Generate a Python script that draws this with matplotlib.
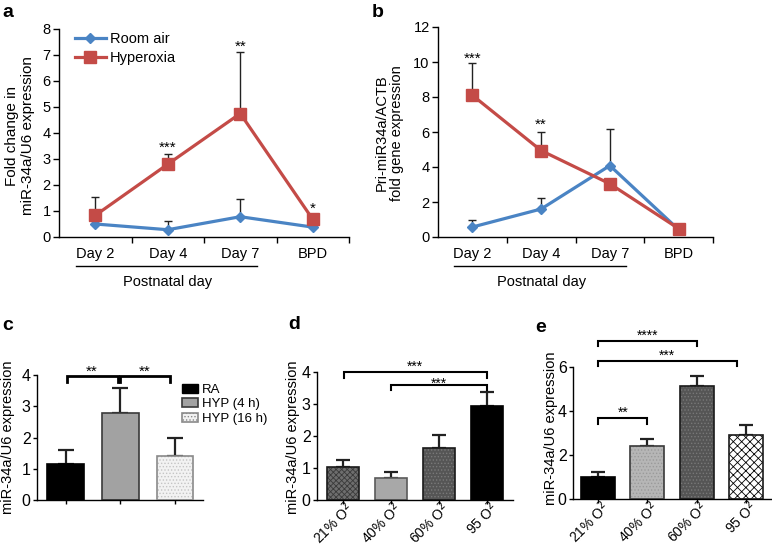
import matplotlib
matplotlib.use('Agg')
import matplotlib.pyplot as plt
import numpy as np
from matplotlib.patches import Patch
import matplotlib.transforms as mtransforms

plt.rcParams.update({
    "font.family": ["Liberation Sans", "DejaVu Sans"],
    "font.size": 10,
    "axes.linewidth": 1.0,
    "xtick.labelsize": 10.5,
    "ytick.labelsize": 10.5,
    "hatch.linewidth": 0.6,
})

# ---- data ----
days = ["Day 2", "Day 4", "Day 7", "BPD"]

# panel a: miR-34a/U6 fold change
a_room = [0.50, 0.28, 0.78, 0.38]
a_room_err = [0.00, 0.34, 0.69, 0.00]
a_hyp = [0.83, 2.80, 4.75, 0.68]
a_hyp_err = [0.72, 0.40, 2.35, 0.05]
a_stars = {1: ("***", 3.6), 2: ("**", 7.5), 3: ("*", 1.26)}

# panel b: pri-miR34a/ACTB
b_room = [0.57, 1.60, 4.08, 0.42]
b_room_err = [0.38, 0.62, 2.09, 0.00]
b_hyp = [8.10, 4.94, 3.04, 0.48]
b_hyp_err = [1.85, 1.08, 0.28, 0.00]
b_stars = {0: ("***", 10.48), 1: ("**", 6.68)}

# panel c
c_groups = ["RA", "HYP (4 h)", "HYP (16 h)"]
c_vals = [1.15, 2.80, 1.41]
c_err = [0.45, 0.77, 0.59]

# panel d
o2_labels = ["21% O$^2$", "40% O$^2$", "60% O$^2$", "95 O$^2$"]
d_vals = [1.02, 0.68, 1.64, 2.93]
d_err = [0.22, 0.21, 0.40, 0.44]

# panel e
e_vals = [1.00, 2.42, 5.15, 2.92]
e_err = [0.21, 0.31, 0.45, 0.43]

W, H = 772, 546
fig = plt.figure(figsize=(W / 100, H / 100), dpi=100)
fig.patch.set_facecolor('white')


def px_axes(left, top, right, bottom):
    return fig.add_axes([left / W, 1 - bottom / H, (right - left) / W, (bottom - top) / H])


def clean(ax, length=4, pad=2):
    ax.spines['top'].set_visible(False)
    ax.spines['right'].set_visible(False)
    ax.tick_params(axis='both', direction='out', length=length, width=1, pad=pad)


def stars(ax, x, y, s, size=11):
    ax.annotate(s, (x, y), xytext=(0, -0.58 * size), textcoords='offset points',
                ha='center', va='baseline', fontsize=size, annotation_clip=False)


def bracket(ax, x0, x1, ytop, ylow, lw=1.5):
    ax.plot([x0, x0, x1, x1], [ylow, ytop, ytop, ylow], color='black', lw=lw,
            clip_on=False, solid_joinstyle='miter')


BLUE = '#4a84c4'
RED = '#c44b47'


def line_panel(ax, room, room_err, hyp, hyp_err, ymax, ystep):
    x = np.arange(len(days))
    ax.errorbar(x, hyp, yerr=[np.zeros(4), hyp_err], fmt='none', ecolor='#222222',
                elinewidth=1.0, capsize=3, capthick=1.0, zorder=2)
    ax.errorbar(x, room, yerr=[np.zeros(4), room_err], fmt='none', ecolor='#222222',
                elinewidth=1.0, capsize=3, capthick=1.0, zorder=2)
    ax.plot(x, room, color=BLUE, lw=2.3, marker='D', ms=5.5, label='Room air', zorder=3)
    ax.plot(x, hyp, color=RED, lw=2.3, marker='s', ms=8.5, label='Hyperoxia', zorder=4)
    ax.set_xlim(-0.5, 3.5)
    ax.set_ylim(0, ymax)
    ax.set_yticks(np.arange(0, ymax + 0.1, ystep))
    ax.set_xticks([0.5, 1.5, 2.5, 3.5])
    ax.set_xticklabels([])
    ax.set_xticks(x, minor=True)
    ax.set_xticklabels(days, minor=True)
    ax.tick_params(axis='x', which='minor', length=0, pad=7, labelsize=10.5)
    trans = mtransforms.blended_transform_factory(ax.transData, ax.transAxes)
    ax.plot([-0.27, 2.23], [-0.139, -0.139], color='black', lw=1, transform=trans, clip_on=False)
    ax.text(1.0, -0.215, "Postnatal day", transform=trans, ha='center', va='center', fontsize=10.5)


def o2_ticklabels(ax):
    ax.set_xticks(range(4))
    ax.set_xticklabels(o2_labels, rotation=45, ha='right', va='center',
                       rotation_mode='anchor', fontsize=10)
    shift = mtransforms.ScaledTranslation(8 / 100, 1 / 100, fig.dpi_scale_trans)
    for lab in ax.get_xticklabels():
        lab.set_transform(lab.get_transform() + shift)


# ---- panel a ----
ax = px_axes(59, 29, 349, 237)
clean(ax)
line_panel(ax, a_room, a_room_err, a_hyp, a_hyp_err, 8, 1)
for i, (s, y) in a_stars.items():
    stars(ax, i, y, s)
ax.legend(loc='upper left', bbox_to_anchor=(0.03, 1.02), frameon=False, fontsize=10.5,
          handlelength=2.1, handletextpad=0.3, labelspacing=0.35, borderpad=0)
fig.text(20 / W, 1 - 136 / H, "Fold change in\nmiR-34a/U6 expression", rotation=90,
         ha='center', va='center', fontsize=11, linespacing=1.1)

# ---- panel b ----
ax = px_axes(438, 27, 713, 237)
clean(ax)
line_panel(ax, b_room, b_room_err, b_hyp, b_hyp_err, 12, 2)
for i, (s, y) in b_stars.items():
    stars(ax, i, y, s)
fig.text(389 / W, 1 - 133 / H, "Pri-miR34a/ACTB\nfold gene expression", rotation=90,
         ha='center', va='center', fontsize=10.5, linespacing=1.1)


def draw_bar(ax, x, v, width, face, edge, hatch=None, hatch_color=None, lw=1.2):
    if hatch:
        ax.bar(x, v, width, color=face, edgecolor=hatch_color, hatch=hatch, lw=0, zorder=2)
        ax.bar(x, v, width, fill=False, edgecolor=edge, lw=lw, zorder=3)
    else:
        ax.bar(x, v, width, color=face, edgecolor=edge, lw=lw, zorder=2)


def bar_errs(ax, vals, errs, capsize=5):
    x = np.arange(len(vals))
    ax.errorbar(x, vals, yerr=[np.zeros(len(vals)), errs], fmt='none', ecolor='#222222',
                elinewidth=1.6, capsize=capsize, capthick=1.6, zorder=1)


# ---- panel c ----
ax = px_axes(37, 375, 203, 500)
clean(ax, length=3, pad=1.5)
c_styles = [
    dict(face='black', edge='black'),
    dict(face='#a2a2a2', edge='#3a3a3a'),
    dict(face='#f2f2f2', edge='#8a8a8a', hatch='.....', hatch_color='#c4c4c4'),
]
bar_errs(ax, c_vals, c_err, capsize=6)
for i, v in enumerate(c_vals):
    draw_bar(ax, i, v, 0.67, **c_styles[i])
ax.set_xlim(-0.525, 2.51)
ax.set_ylim(0, 4)
ax.set_yticks([0, 1, 2, 3, 4])
ax.set_xticks([0, 1, 2])
ax.set_xticklabels([])
ax.tick_params(axis='y', labelsize=11.5)
bracket(ax, 0.02, 0.95, 3.97, 3.79, lw=2)
bracket(ax, 1.0, 1.91, 3.97, 3.79, lw=2)
stars(ax, 0.48, 4.27, "**")
stars(ax, 1.45, 4.27, "**")
handles = [Patch(facecolor='black', edgecolor='black'),
           Patch(facecolor='#a2a2a2', edgecolor='#3a3a3a', lw=1.2),
           Patch(facecolor='#f2f2f2', edgecolor='#8a8a8a', hatch='.....', lw=1.2)]
ax.legend(handles, c_groups, loc='upper left', bbox_to_anchor=(0.875, 0.93), frameon=False,
          fontsize=9.5, handlelength=1.2, handleheight=0.65, handletextpad=0.3,
          labelspacing=0.2, borderpad=0, borderaxespad=0)
fig.text(8 / W, 1 - 437 / H, "miR-34a/U6 expression", rotation=90,
         ha='center', va='center', fontsize=10.5)

# ---- panel d ----
ax = px_axes(317, 372, 513, 500)
clean(ax, length=3, pad=1.5)
d_styles = [
    dict(face='#6e6e6e', edge='#1a1a1a', hatch='xxxxxx', hatch_color='#3a3a3a'),
    dict(face='#a8a8a8', edge='#5a5a5a'),
    dict(face='#555555', edge='#1a1a1a', hatch='.....', hatch_color='#7a7a7a'),
    dict(face='black', edge='black'),
]
bar_errs(ax, d_vals, d_err)
for i, v in enumerate(d_vals):
    draw_bar(ax, i, v, 0.68, **d_styles[i])
ax.set_xlim(-0.54, 3.54)
ax.set_ylim(0, 4)
ax.set_yticks([0, 1, 2, 3, 4])
o2_ticklabels(ax)
ax.tick_params(axis='y', labelsize=11.5)
bracket(ax, 0.02, 3.0, 4.0, 3.8)
bracket(ax, 1.0, 3.0, 3.6, 3.43)
stars(ax, 1.5, 4.28, "***", size=10)
stars(ax, 2.0, 3.77, "***", size=10)
fig.text(293 / W, 1 - 437 / H, "miR-34a/U6 expression", rotation=90,
         ha='center', va='center', fontsize=10.5)

# ---- panel e ----
ax = px_axes(573, 367, 772, 499)
clean(ax, length=3, pad=1.5)
e_styles = [
    dict(face='black', edge='black'),
    dict(face='#b6b6b6', edge='#3a3a3a', hatch='.....', hatch_color='#9a9a9a'),
    dict(face='#555555', edge='#1a1a1a', hatch='.....', hatch_color='#787878'),
    dict(face='white', edge='#1a1a1a', hatch='xxxx', hatch_color='black'),
]
bar_errs(ax, e_vals, e_err)
for i, v in enumerate(e_vals):
    draw_bar(ax, i, v, 0.69, **e_styles[i])
ax.set_xlim(-0.51, 3.53)
ax.set_ylim(0, 6)
ax.set_yticks([0, 2, 4, 6])
o2_ticklabels(ax)
ax.tick_params(axis='y', labelsize=11.5)
bracket(ax, 0.0, 1.0, 3.68, 3.42)
bracket(ax, 0.0, 2.0, 7.2, 6.94)
bracket(ax, 0.0, 2.81, 6.29, 6.03)
stars(ax, 0.5, 4.09, "**", size=10)
stars(ax, 1.0, 7.62, "****", size=10)
stars(ax, 1.4, 6.71, "***", size=10)
fig.text(551 / W, 1 - 428 / H, "miR-34a/U6 expression", rotation=90,
         ha='center', va='center', fontsize=10.5)

# panel letters
for s, x, y in [("a", 2, 4), ("b", 372, 4), ("c", 2, 317), ("d", 288, 316), ("e", 535, 319)]:
    fig.text(x / W, 1 - y / H, s, fontsize=14, fontweight='bold', ha='left', va='top')

fig.savefig('out.png', dpi=100, facecolor='white')
